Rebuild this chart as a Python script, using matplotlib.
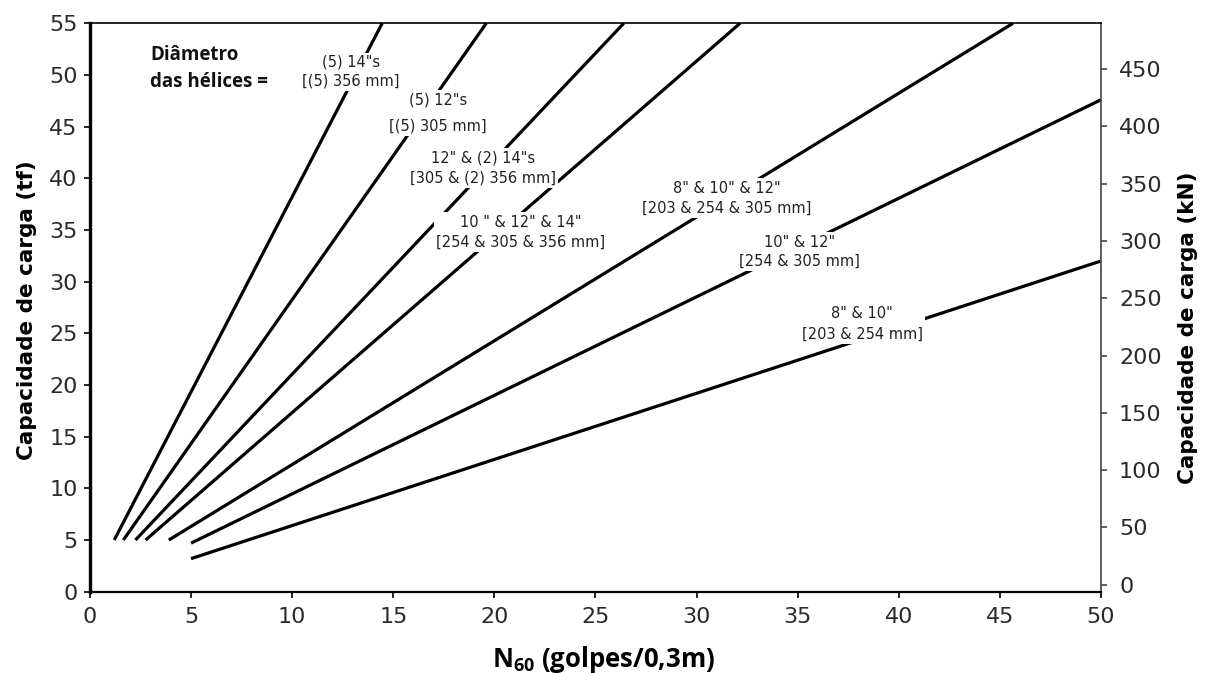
import matplotlib
matplotlib.use("Agg")
import matplotlib.pyplot as plt

# dados (N60 x capacidade em tf)
curve_x = [
    [1.2, 14.45],
    [1.65, 19.6],
    [2.25, 26.4],
    [2.75, 32.15],
    [3.9, 45.65],
    [5.0, 50.0],
    [5.0, 50.0],
]
curve_y = [
    [5.0, 55.0],
    [5.0, 55.0],
    [5.0, 55.0],
    [5.0, 55.0],
    [5.0, 55.0],
    [4.7, 47.6],
    [3.2, 32.0],
]

# rótulos das curvas e posições (em coordenadas dos dados)
label_text = [
    '(5) 14"s\n[(5) 356 mm]',
    '(5) 12"s\n[(5) 305 mm]',
    '12" & (2) 14"s\n[305 & (2) 356 mm]',
    '10 " & 12" & 14"\n[254 & 305 & 356 mm]',
    '8" & 10" & 12"\n[203 & 254 & 305 mm]',
    '10" & 12"\n[254 & 305 mm]',
    '8" & 10"\n[203 & 254 mm]',
]
label_x = [12.9, 17.2, 19.45, 21.3, 31.5, 35.1, 38.2]
label_y = [50.3, 46.3, 41.0, 34.8, 38.1, 32.9, 25.9]
label_spacing = [1.35, 1.95, 1.4, 1.4, 1.4, 1.35, 1.45]

x_ticks = list(range(0, 55, 5))
tf_ticks = list(range(0, 60, 5))
kn_ticks = list(range(0, 500, 50))

plt.rcParams['mathtext.fontset'] = 'custom'
plt.rcParams['mathtext.bf'] = 'Open Sans:bold'
plt.rcParams['mathtext.rm'] = 'Open Sans:bold'

fig = plt.figure(figsize=(12.06, 6.73), dpi=100)
ax = fig.add_axes([0.0746, 0.1208, 0.8383, 0.8446])

for xs, ys in zip(curve_x, curve_y):
    ax.plot(xs, ys, color='black', lw=2.3, solid_capstyle='butt', zorder=2)

for t, x, y, ls in zip(label_text, label_x, label_y, label_spacing):
    ax.text(x, y, t, ha='center', va='center', fontsize=10.5, color='#222222',
            linespacing=ls, zorder=3,
            bbox=dict(boxstyle='square,pad=0.15', fc='white', ec='none'))

ax.text(2.97, 50.65, 'Diâmetro\ndas hélices =', ha='left', va='center',
        fontsize=13.5, fontweight='bold', family='Open Sans', linespacing=1.45,
        color='#111111')

ax.set_xlim(0, 50)
ax.set_ylim(0, 55)
ax.set_xticks(x_ticks)
ax.set_yticks(tf_ticks)
ax.tick_params(labelsize=16, labelcolor='#2a2a2a', length=4, width=1.2,
               direction='out')
ax.tick_params(axis='y', pad=5)
ax.tick_params(axis='x', pad=7)

ax.spines['left'].set_linewidth(2.4)
ax.spines['bottom'].set_linewidth(1.6)
ax.spines['top'].set_linewidth(1.2)
ax.spines['right'].set_linewidth(1.2)
ax.spines['right'].set_color('#444444')

ax.set_ylabel('Capacidade de carga (tf)', fontsize=15.5, fontweight='bold')
ax.yaxis.set_label_coords(-0.052, 0.495)

ax.set_xlabel(r'N$_{\mathrm{60}}$ (golpes/0,3m)', fontsize=18.5, fontweight='bold',
              family='Open Sans')
ax.xaxis.label.set_va('baseline')
ax.xaxis.set_label_coords(0.508, -0.132)

ax2 = ax.twinx()
ax2.set_ylim(-6.1, 490)
ax2.set_yticks(kn_ticks)
ax2.tick_params(labelsize=16, labelcolor='#2a2a2a', length=4, width=1.2,
                color='#444444', pad=9)
for s in ax2.spines.values():
    s.set_visible(False)
ax2.set_ylabel('Capacidade de carga (kN)', fontsize=15.5, fontweight='bold')
ax2.yaxis.set_label_coords(1.076, 0.465)

fig.savefig('out.png', dpi=100)
